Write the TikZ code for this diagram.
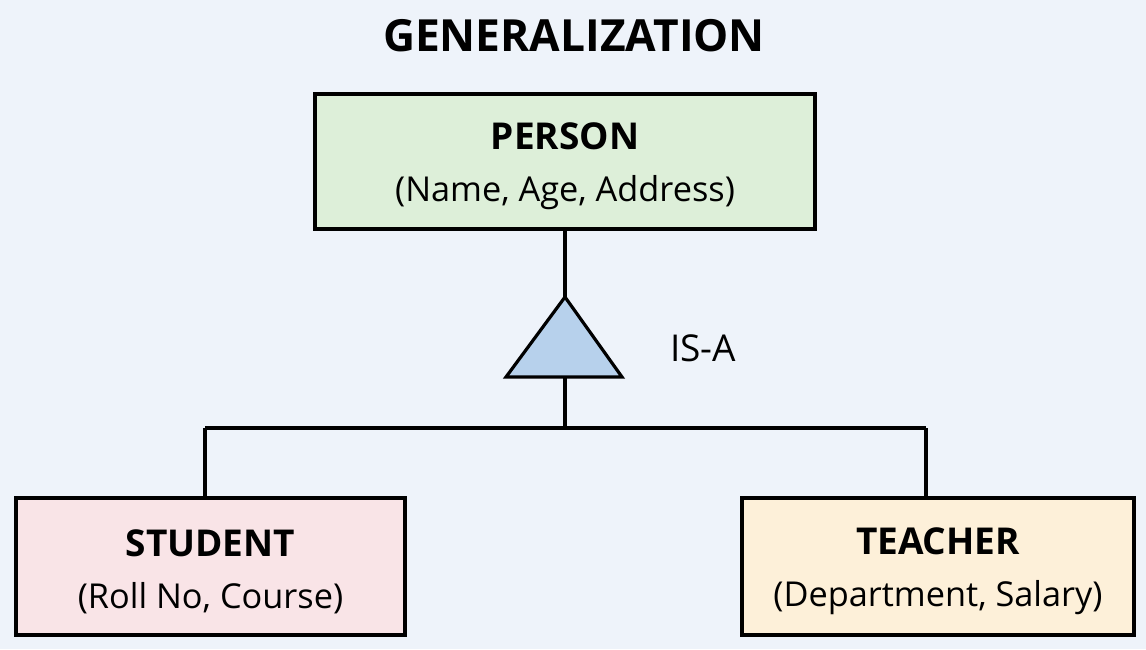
\documentclass[tikz,border=0pt]{standalone}
\usepackage{fontspec}
\setmainfont{Open Sans}
\usetikzlibrary{positioning}
\definecolor{pagebg}{HTML}{EEF3FA}
\definecolor{persongreen}{HTML}{DDEFD9}
\definecolor{studentpink}{HTML}{F9E4E7}
\definecolor{teachercream}{HTML}{FDF0D9}
\definecolor{isablue}{HTML}{B7D1EC}

\begin{document}
\begin{tikzpicture}[x=1pt, y=-1pt,
        entity/.style = {draw, line width=3.2pt, align=center,
                font=\fontsize{34.3}{52}\selectfont},
        link/.style = {line width=3.2pt}]

        \fill[pagebg] (0,0) rectangle (1146,649);
        \useasboundingbox (0,0) rectangle (1146,649);

        \node (title) at (574,36) {\fontsize{44.3}{50}\selectfont\bfseries GENERALIZATION};

        \node[entity, fill=persongreen, minimum width=500pt, minimum height=135pt] (person) at (565,161.5)
                {{\fontsize{37}{52}\selectfont\bfseries\rule{0pt}{36pt}PERSON}\\(Name, Age, Address)};
        \node[entity, fill=studentpink, minimum width=389pt, minimum height=137pt] (student) at (210.5,566.5)
                {{\fontsize{37}{52}\selectfont\bfseries\rule{0pt}{37pt}STUDENT}\\(Roll No, Course)};
        \node[entity, fill=teachercream, minimum width=392pt, minimum height=137pt] (teacher) at (938,566.5)
                {{\fontsize{37}{52}\selectfont\bfseries\rule{0pt}{37pt}TEACHER}\\(Department, Salary)};

        % IS-A triangle
        \coordinate (apex) at (565,297);
        \coordinate (base) at (565,377);
        \draw[link, fill=isablue, line join=miter] (apex) -- (622,377) -- (506,377) -- cycle;
        \node[font=\fontsize{37}{44}\selectfont] (isa) at (703,348) {IS-A};

        \coordinate (split) at (565,428);
        \coordinate (left) at (205,428);
        \coordinate (right) at (926,428);

        \draw[link] (person) -- (apex);
        \draw[link] (base) -- (split);
        \draw[link] (left) -- (right);
        \draw[link] (left) -- (left |- student.north);
        \draw[link] (right) -- (right |- teacher.north);

\end{tikzpicture}
\end{document}
